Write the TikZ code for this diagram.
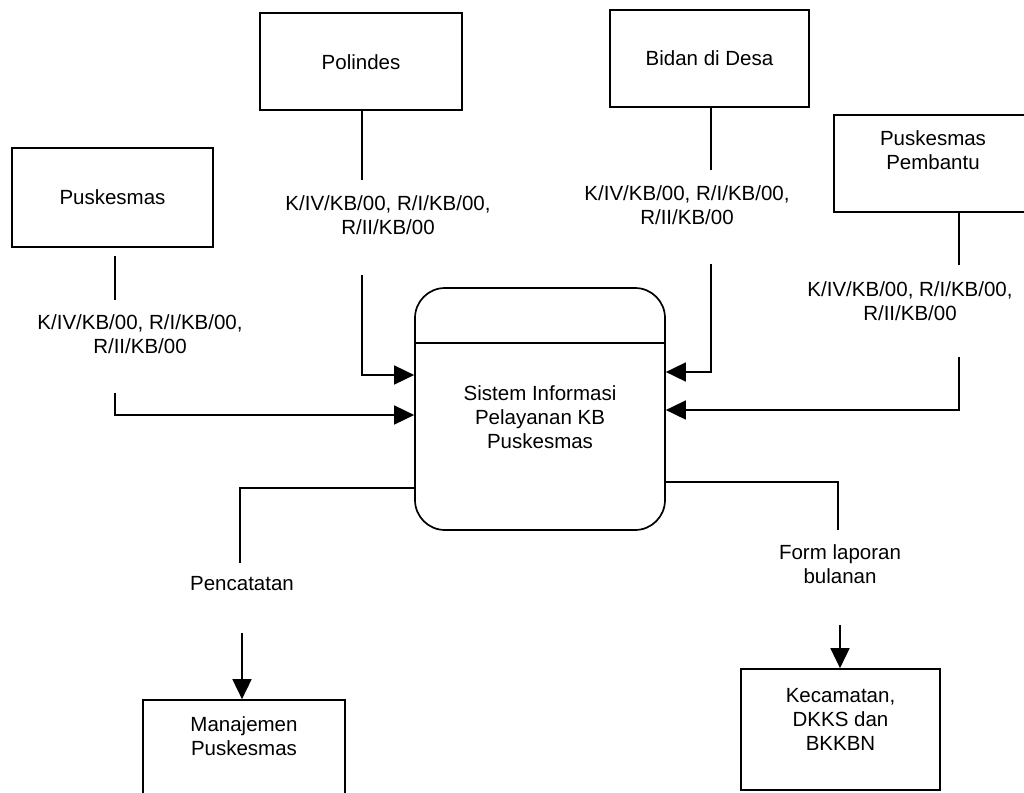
\documentclass[tikz,border=0pt]{standalone}
\usepackage{fontspec}
\setmainfont{Liberation Sans}
\usetikzlibrary{arrows.meta}
\begin{document}
\begin{tikzpicture}[x=1pt,y=-1pt,
  box/.style={draw, line width=1.7pt, inner sep=0pt},
  txt/.style={align=center, font=\fontsize{20.5}{24}\selectfont, inner sep=0pt},
  flow/.style={line width=1.7pt},
  arr/.style={line width=1.7pt, -{Triangle[length=20pt,width=19pt]}}]
\useasboundingbox (0,0) rectangle (1024,792);
% external entities
\node[box, minimum width=202pt, minimum height=97pt] (pol) at (361,61.5) {};
\node[txt] (poltxt) at (361,62) {Polindes};
\node[box, minimum width=201pt, minimum height=99pt] (pus) at (112.5,197.5) {};
\node[txt] (pustxt) at (112.5,197) {Puskesmas};
\node[box, minimum width=199pt, minimum height=97pt] (bid) at (709.5,58.5) {};
\node[txt] (bidtxt) at (709.5,58) {Bidan di Desa};
\node[box, minimum width=196pt, minimum height=97pt] (pem) at (932,163.5) {};
\node[txt] (pemtxt) at (933,150) {Puskesmas\\Pembantu};
\node[box, minimum width=202pt, minimum height=110pt] (man) at (244,755) {};
\node[txt] (mantxt) at (244,736) {Manajemen\\Puskesmas};
\node[box, minimum width=199pt, minimum height=121pt] (kec) at (840.5,729.5) {};
\node[txt] (kectxt) at (840.5,719) {Kecamatan,\\DKKS dan\\BKKBN};
% process
\node[box, rounded corners=30pt, minimum width=250pt, minimum height=242pt] (proc) at (540,409) {};
\coordinate (divy) at (0,343);
\draw[flow] (proc.west |- divy) -- (proc.east |- divy);
\node[txt] (proctxt) at (540,417) {Sistem Informasi\\Pelayanan KB\\Puskesmas};
% flow labels
\node[txt] (l1) at (388,215) {K/IV/KB/00, R/I/KB/00,\\R/II/KB/00};
\node[txt] (l2) at (140,334) {K/IV/KB/00, R/I/KB/00,\\R/II/KB/00};
\node[txt] (l3) at (687,205) {K/IV/KB/00, R/I/KB/00,\\R/II/KB/00};
\node[txt] (l4) at (910,301.5) {K/IV/KB/00, R/I/KB/00,\\R/II/KB/00};
\node[txt] (l5) at (242,584) {Pencatatan};
\node[txt] (l6) at (840,564.5) {Form laporan\\bulanan};
% coordinates
\coordinate (a1) at (362,180); \coordinate (a2) at (362,275); \coordinate (a3) at (362,375);
\coordinate (b0) at (115,256); \coordinate (b1) at (115,300); \coordinate (b2) at (115,393); \coordinate (b3) at (115,415);
\coordinate (c1) at (711,170); \coordinate (c2) at (711,264); \coordinate (c3) at (711,372);
\coordinate (d1) at (959,265); \coordinate (d2) at (959,357); \coordinate (d3) at (959,410);
\coordinate (e0) at (415,488); \coordinate (e1) at (240,488); \coordinate (e2) at (240,563); \coordinate (e3) at (242,633);
\coordinate (f0) at (665,482); \coordinate (f1) at (838,482); \coordinate (f2) at (838,530); \coordinate (f3) at (840,625);
% flows in
\draw[flow] (pol.south -| a1) -- (a1);
\draw[arr] (a2) -- (a3) -- (a3 -| proc.west);
\draw[flow] (b0) -- (b1);
\draw[arr] (b2) -- (b3) -- (b3 -| proc.west);
\draw[flow] (bid.south -| c1) -- (c1);
\draw[arr] (c2) -- (c3) -- (c3 -| proc.east);
\draw[flow] (pem.south -| d1) -- (d1);
\draw[arr] (d2) -- (d3) -- (d3 -| proc.east);
% flows out
\draw[flow] (e0 -| proc.west) -- (e1) -- (e2);
\draw[arr] (e3) -- (e3 |- man.north);
\draw[flow] (f0 -| proc.east) -- (f1) -- (f2);
\draw[arr] (f3) -- (f3 |- kec.north);
\end{tikzpicture}
\end{document}
